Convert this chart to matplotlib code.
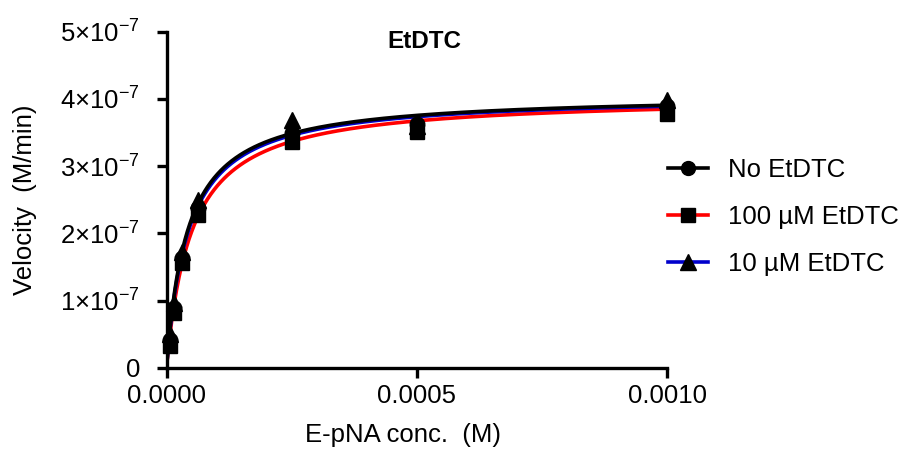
import numpy as np
import matplotlib
matplotlib.use("Agg")
import matplotlib.pyplot as plt

plt.rcParams['font.family'] = ['Liberation Sans', 'DejaVu Sans']
plt.rcParams['mathtext.fontset'] = 'custom'
plt.rcParams['mathtext.rm'] = 'Liberation Sans'
plt.rcParams['mathtext.it'] = 'Liberation Sans:italic'
plt.rcParams['mathtext.bf'] = 'Liberation Sans:bold'

# Data
substrate = [7.8125e-6, 1.5625e-5, 3.125e-5, 6.25e-5, 2.5e-4, 5e-4, 1e-3]
v_no = [0.41e-7, 0.89e-7, 1.63e-7, 2.38e-7, 3.49e-7, 3.63e-7, 3.89e-7]
v_100 = [0.32e-7, 0.81e-7, 1.56e-7, 2.27e-7, 3.36e-7, 3.51e-7, 3.78e-7]
v_10 = [0.50e-7, 0.96e-7, 1.72e-7, 2.49e-7, 3.68e-7, 3.60e-7, 3.98e-7]

# Michaelis-Menten fit parameters (Vmax, Km)
fit_no = (4.07e-7, 4.2e-5)
fit_100 = (4.04e-7, 5.0e-5)
fit_10 = (4.06e-7, 4.35e-5)

labels = ['No EtDTC', '100 \u00b5M EtDTC', '10 \u00b5M EtDTC']
colors = ['black', 'red', '#0000cc']
markers = ['o', 's', '^']

xticks = [0.0, 0.0005, 0.0010]
xticklabels = ['0.0000', '0.0005', '0.0010']
yticks = [0, 1e-7, 2e-7, 3e-7, 4e-7, 5e-7]
yticklabels = ['0'] + [r'$%d{\times}10^{-7}$' % i for i in range(1, 6)]

FS = 18.5

fig = plt.figure(figsize=(9.05, 4.53), dpi=100)
ax = fig.add_axes([166.5 / 905, 1 - 367.7 / 453, (667 - 166.5) / 905, (367.7 - 31.7) / 453])

xs = np.linspace(0, 0.001, 600)
series = [(v_100, fit_100, 1), (v_10, fit_10, 2), (v_no, fit_no, 0)]
handles = {}
for vals, (vm, km), i in series:
    ax.plot(xs, vm * xs / (km + xs), color=colors[i], lw=2.6, zorder=2 + (i == 0))
    ax.plot(substrate, vals, linestyle='none', marker=markers[i], color='black',
            markersize=12 if markers[i] == '^' else 10.5, zorder=5, clip_on=False)
    handles[i] = ax.plot([], [], color=colors[i], lw=2.6, marker=markers[i],
                         markerfacecolor='black', markeredgecolor='black',
                         markersize=10 if markers[i] != '^' else 11)[0]

ax.set_xlim(0, 0.001)
ax.set_ylim(0, 5e-7)
ax.set_xticks(xticks)
ax.set_xticklabels(xticklabels)
ax.set_yticks(yticks)
ax.set_yticklabels(yticklabels)
for s in ['top', 'right']:
    ax.spines[s].set_visible(False)
for s in ['left', 'bottom']:
    ax.spines[s].set_linewidth(2.4)
ax.tick_params(axis='both', direction='out', length=7, width=2.4, labelsize=FS)
ax.tick_params(axis='y', pad=12)
ax.tick_params(axis='x', pad=5)

ax.set_xlabel('E-pNA conc.  (M)', fontsize=FS, labelpad=14)
ax.xaxis.set_label_coords((402.5 - 166.5) / 500.5, -0.165)
ax.set_ylabel('Velocity  (M/min)', fontsize=FS, labelpad=16.5)
fig.text(424 / 905, 1 - 42 / 453, 'EtDTC', fontsize=17.5, fontweight='bold', ha='center', va='center')

fig.legend([handles[0], handles[1], handles[2]], labels, loc='center left',
           bbox_to_anchor=(668 / 905, 1 - 217 / 453), frameon=False, fontsize=FS,
           handlelength=1.55, handletextpad=0.8, labelspacing=0.9, borderpad=0,
           borderaxespad=0)

fig.savefig('out.png', dpi=100)
